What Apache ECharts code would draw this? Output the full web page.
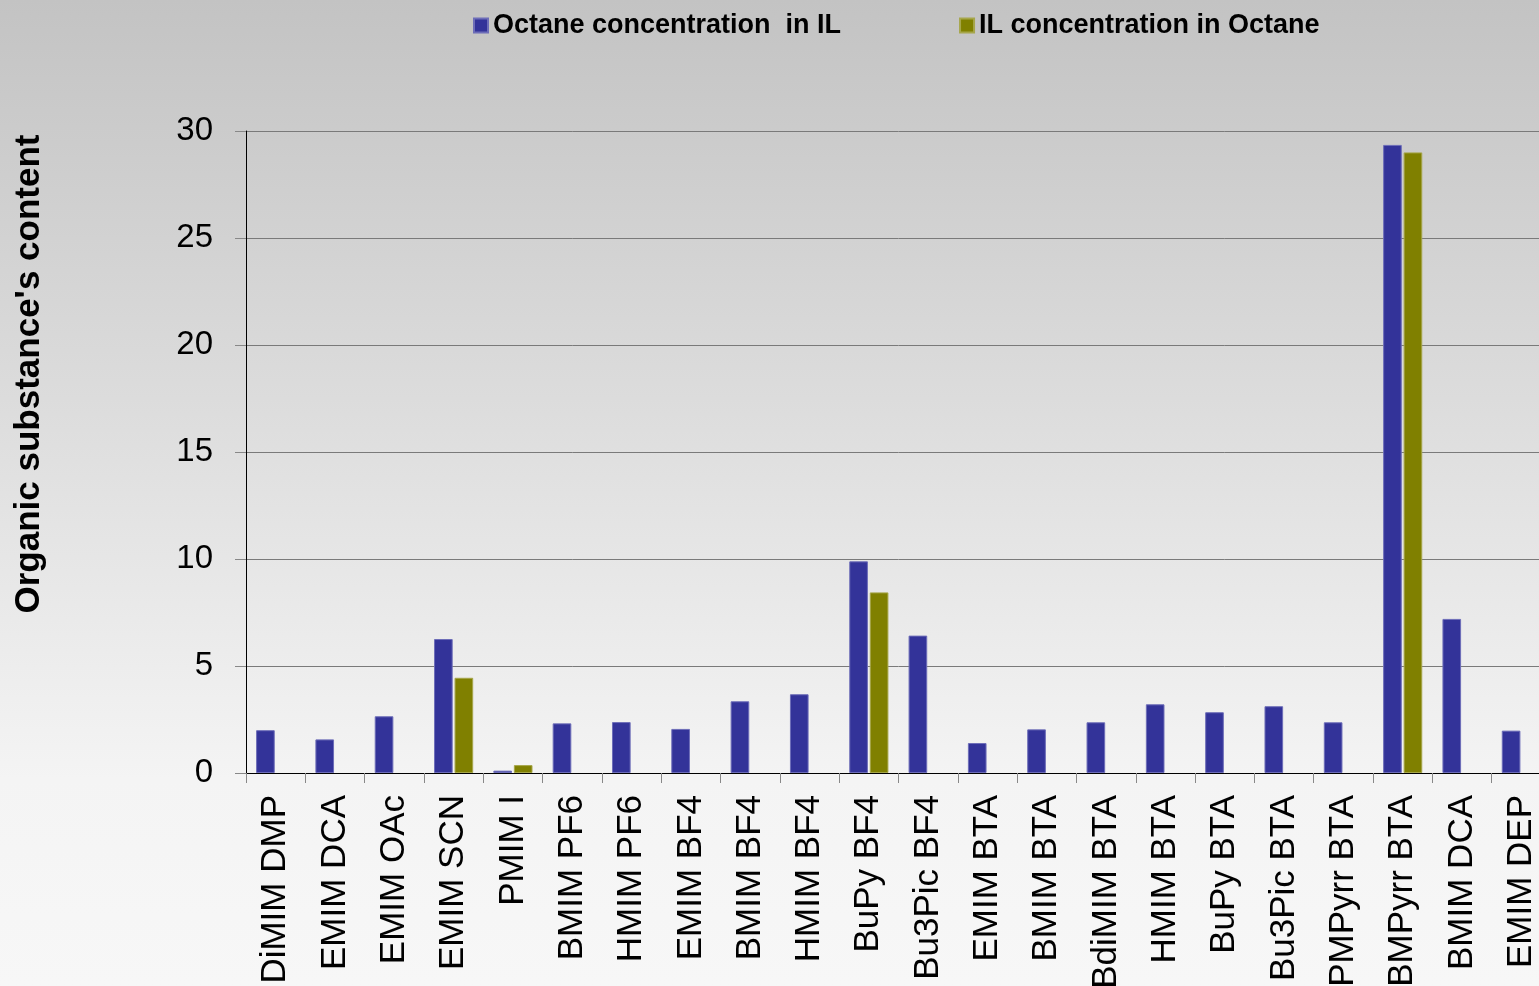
<!DOCTYPE html>
<html>
<head>
<meta charset="utf-8">
<script src="https://cdn.jsdelivr.net/npm/echarts@6/dist/echarts.min.js"></script>
<style>
  html, body { margin: 0; padding: 0; overflow: hidden; width: 1539px; height: 986px; }
  /* the last category runs a little past the right edge of the page */
  #chart { width: 1551px; height: 986px; }
</style>
</head>
<body>
<div id="chart"></div>
<script>
// Ionic liquids
const categories = ['DiMIM DMP', 'EMIM DCA', 'EMIM OAc', 'EMIM SCN', 'PMIM I', 'BMIM PF6',
  'HMIM PF6', 'EMIM BF4', 'BMIM BF4', 'HMIM BF4', 'BuPy BF4', 'Bu3Pic BF4', 'EMIM BTA',
  'BMIM BTA', 'BdiMIM BTA', 'HMIM BTA', 'BuPy BTA', 'Bu3Pic BTA', 'PMPyrr BTA',
  'BMPyrr BTA', 'BMIM DCA', 'EMIM DEP'];

const seriesNames = ['Octane concentration  in IL', 'IL concentration in Octane'];

// Octane concentration in the IL phase
const octaneInIL = [2.0, 1.57, 2.65, 6.26, 0.11, 2.32, 2.38, 2.06, 3.35, 3.68, 9.89, 6.42,
  1.40, 2.04, 2.37, 3.21, 2.84, 3.12, 2.37, 29.35, 7.2, 1.98];

// IL concentration in the octane phase (only measured for a few systems)
const ilInOctane = [null, null, null, 4.45, 0.37, null, null, null, null, null, 8.44, null,
  null, null, null, null, null, null, null, 29.0, null, null];

const yTicks = { min: 0, max: 30, interval: 5 };
const yTitle = "Organic substance's content";

const FONT = "'Liberation Sans', Arial, sans-serif";

const chart = echarts.init(document.getElementById('chart'), null, { renderer: 'canvas' });

chart.setOption({
  animation: false,
  backgroundColor: {
    type: 'linear', x: 0, y: 0, x2: 0, y2: 1,
    colorStops: [
      { offset: 0, color: '#c3c3c3' },
      { offset: 0.79, color: '#f4f4f4' },
      { offset: 1, color: '#f7f7f7' }
    ]
  },
  textStyle: { fontFamily: FONT },
  legend: {
    left: 468,
    top: 7,
    icon: 'rect',
    itemWidth: 14,
    itemHeight: 14,
    itemGap: 118,
    textStyle: { fontFamily: FONT, fontSize: 27, fontWeight: 'bold', color: '#000' },
    data: seriesNames
  },
  graphic: [{
    type: 'text',
    x: 29,
    y: 374,
    rotation: Math.PI / 2,
    style: {
      text: yTitle,
      font: "bold 35px 'Liberation Sans', Arial, sans-serif",
      fill: '#000',
      align: 'center',
      verticalAlign: 'middle'
    }
  }],
  grid: {
    left: 246, right: 0, top: 131, bottom: 213,
    containLabel: false,
    outerBoundsMode: 'none'
  },
  xAxis: {
    type: 'category',
    data: categories,
    axisLine: { lineStyle: { color: '#000', width: 1 } },
    axisTick: { show: true, length: 10, lineStyle: { color: '#888' } },
    axisLabel: {
      interval: 0,
      rotate: 90,
      margin: 22,
      fontSize: 35,
      color: '#000',
      fontFamily: FONT
    }
  },
  yAxis: {
    type: 'value',
    min: yTicks.min,
    max: yTicks.max,
    interval: yTicks.interval,
    axisLine: { show: true, lineStyle: { color: '#000', width: 1 } },
    axisTick: { show: true, length: 11, lineStyle: { color: '#888' } },
    axisLabel: { fontSize: 33, color: '#000', margin: 33, fontFamily: FONT },
    splitLine: { show: true, lineStyle: { color: '#7a7a7a', width: 1 } }
  },
  series: [
    {
      name: seriesNames[0],
      type: 'bar',
      data: octaneInIL,
      barGap: '10%',
      barCategoryGap: '34%',
      itemStyle: { color: '#333399', borderColor: '#6d6db8', borderWidth: 1 }
    },
    {
      name: seriesNames[1],
      type: 'bar',
      data: ilInOctane,
      itemStyle: { color: '#808000', borderColor: '#a6a64a', borderWidth: 1 }
    }
  ]
});
</script>
</body>
</html>
